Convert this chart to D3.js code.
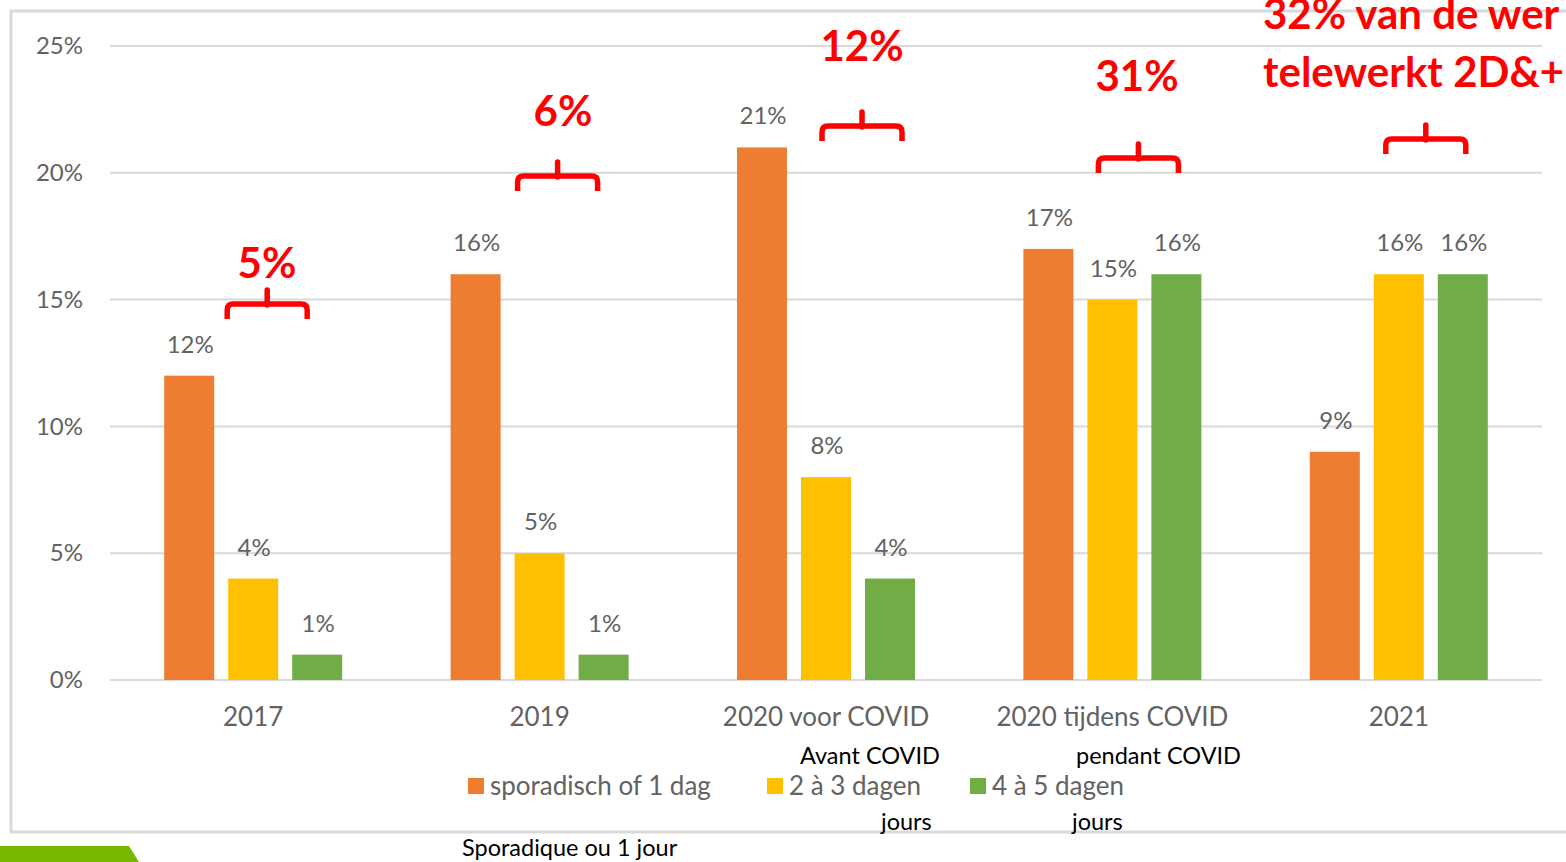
<!DOCTYPE html>
<html>
<head>
<meta charset="utf-8">
<script src="https://cdn.jsdelivr.net/npm/d3@7"></script>
<style>
  body { margin: 0; background: #fff; }
  svg { display: block; font-family: Lato, 'Open Sans', sans-serif; }
</style>
</head>
<body>
<svg id="chart" width="1566" height="862"></svg>
<script>
const categories = ['2017', '2019', '2020 voor COVID', '2020 tijdens COVID', '2021'];
const seriesNames = ['sporadisch of 1 dag', '2 à 3 dagen', '4 à 5 dagen'];
const sporadisch = [12, 16, 21, 17, 9];
const tweeTotDrie = [4, 5, 8, 15, 16];
const vierTotVijf = [1, 1, 4, 16, 16];
const yTicks = [0, 5, 10, 15, 20, 25];
const redNotes = [['5%'], ['6%'], ['12%'], ['31%'], ['32% van de wer', 'telewerkt 2D&+']];

const colors = ['#ED7D31', '#FFC000', '#70AD47'];
const gray = '#626262';
const red = '#FF0000';

// where the hand-placed red braces/labels sit (offset from group centre, brace tip y, text anchor)
const braceLayout = [
  { dx: 14, tip: 288, tx: 267, ty: 278, anchor: 'middle' },
  { dx: 18, tip: 160, tx: 563, ty: 126, anchor: 'middle' },
  { dx: 36, tip: 110, tx: 862, ty: 61, anchor: 'middle' },
  { dx: 26, tip: 142, tx: 1137, ty: 91, anchor: 'middle' },
  { dx: 27, tip: 123, tx: 1263, ty: 29, anchor: 'start' }
];

let svg = d3.select('#chart');

svg.append('rect').attr('width', 1566).attr('height', 862).attr('fill', '#fff');

// chart frame
svg.append('rect')
  .attr('x', 11).attr('y', 11)
  .attr('width', 1570).attr('height', 821)
  .attr('fill', 'none')
  .attr('stroke', '#d9d9d9')
  .attr('stroke-width', 3);

// green slide decoration bottom left
svg.append('path')
  .attr('d', 'M0,846 L129,846 L139,862 L0,862 Z')
  .attr('fill', '#76B900');

let x0 = d3.scaleBand().domain(categories).range([110, 1542]);
let x1 = d3.scaleBand().domain(seriesNames).range([-89, 89]).paddingInner(14 / 64);
let y = d3.scaleLinear().domain([0, 25]).range([680, 46]);

// gridlines
svg.append('g')
  .selectAll('line')
  .data(yTicks)
  .enter()
  .append('line')
    .attr('x1', 110).attr('x2', 1542)
    .attr('y1', d => y(d)).attr('y2', d => y(d))
    .attr('stroke', '#d9d9d9')
    .attr('stroke-width', 2);

let yAxis = d3.axisLeft(y).tickValues(yTicks).tickFormat(d => d + '%').tickSize(0).tickPadding(0);
let yAxisG = svg.append('g').attr('transform', 'translate(83,0)').call(yAxis);
yAxisG.select('.domain').remove();
yAxisG.selectAll('text')
  .attr('fill', gray)
  .style('font-size', '24px')
  .style('font-family', 'Lato, sans-serif');

let xAxis = d3.axisBottom(x0).tickSize(0).tickPadding(0);
let xAxisG = svg.append('g').attr('transform', 'translate(0,708)').call(xAxis);
xAxisG.select('.domain').remove();
xAxisG.selectAll('text')
  .attr('fill', gray)
  .attr('dy', '0.71em')
  .attr('y', 0)
  .style('font-size', '26px')
  .style('font-family', 'Lato, sans-serif');

let table = categories.map((c, i) => ({
  category: c,
  values: [sporadisch[i], tweeTotDrie[i], vierTotVijf[i]].map((v, j) => ({ series: seriesNames[j], value: v, color: colors[j] }))
}));

let groups = svg.selectAll('.group')
  .data(table)
  .enter()
  .append('g')
  .attr('class', 'group')
  .attr('transform', d => 'translate(' + (x0(d.category) + x0.bandwidth() / 2) + ',0)');

groups.selectAll('rect')
  .data(d => d.values)
  .enter()
  .append('rect')
    .attr('x', d => x1(d.series))
    .attr('y', d => y(d.value))
    .attr('width', x1.bandwidth())
    .attr('height', d => y(0) - y(d.value))
    .attr('fill', d => d.color);

groups.selectAll('.val')
  .data(d => d.values)
  .enter()
  .append('text')
    .attr('class', 'val')
    .attr('x', d => x1(d.series) + x1.bandwidth() / 2 + 1)
    .attr('y', d => y(d.value) - 23)
    .attr('text-anchor', 'middle')
    .attr('fill', gray)
    .style('font-size', '24px')
    .text(d => d.value + '%');

// legend
let legendX = [468, 767, 970];
let legend = svg.append('g');
seriesNames.forEach((name, i) => {
  legend.append('rect')
    .attr('x', legendX[i]).attr('y', 778)
    .attr('width', 16).attr('height', 16)
    .attr('fill', colors[i]);
  legend.append('text')
    .attr('x', legendX[i] + 22).attr('y', 795)
    .attr('fill', gray)
    .style('font-size', '26px')
    .text(name);
});

// french translations overlaid in black
let frenchNotes = [
  { text: 'Avant COVID', x: 800, y: 764 },
  { text: 'pendant COVID', x: 1076, y: 764 },
  { text: 'jours', x: 881, y: 830 },
  { text: 'jours', x: 1072, y: 830 },
  { text: 'Sporadique ou 1 jour', x: 462, y: 856 }
];
svg.selectAll('.fr')
  .data(frenchNotes)
  .enter()
  .append('text')
    .attr('class', 'fr')
    .attr('x', d => d.x).attr('y', d => d.y)
    .attr('fill', '#000')
    .style('font-size', '23.5px')
    .text(d => d.text);

// red braces and totals
braceLayout.forEach((b, i) => {
  let cx = x0(categories[i]) + x0.bandwidth() / 2 + b.dx;
  let t = b.tip;
  svg.append('path')
    .attr('d', 'M' + (cx - 40) + ',' + (t + 31) + ' L' + (cx - 40) + ',' + (t + 22) +
      ' Q' + (cx - 40) + ',' + (t + 16) + ' ' + (cx - 34) + ',' + (t + 16) +
      ' L' + (cx + 34) + ',' + (t + 16) +
      ' Q' + (cx + 40) + ',' + (t + 16) + ' ' + (cx + 40) + ',' + (t + 22) +
      ' L' + (cx + 40) + ',' + (t + 31))
    .attr('fill', 'none')
    .attr('stroke', red)
    .attr('stroke-width', 5.5);
  svg.append('line')
    .attr('x1', cx).attr('x2', cx)
    .attr('y1', t + 2).attr('y2', t + 17)
    .attr('stroke', red)
    .attr('stroke-width', 5.5)
    .attr('stroke-linecap', 'round');

  redNotes[i].forEach((line, k) => {
    svg.append('text')
      .attr('x', b.tx)
      .attr('y', b.ty + k * 58)
      .attr('text-anchor', b.anchor)
      .attr('fill', red)
      .style('font-size', '42px')
      .style('font-weight', 'bold')
      .text(line);
  });
});
</script>
</body>
</html>
